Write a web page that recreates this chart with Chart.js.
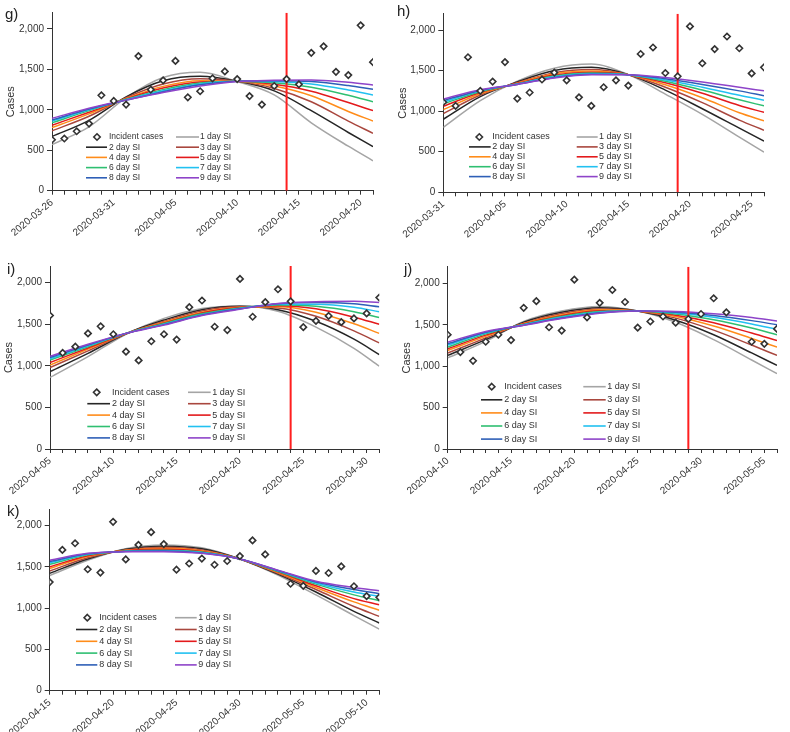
<!DOCTYPE html>
<html>
<head>
<meta charset="utf-8">
<script src="https://cdn.jsdelivr.net/npm/chart.js@4.4.1/dist/chart.umd.min.js"></script>
<style>
  body { margin: 0; background: #fff; }
  .panel { position: absolute; }
</style>
</head>
<body>
<div class="panel" style="left:0;top:0"><canvas id="chartG" width="395" height="250"></canvas></div>
<div class="panel" style="left:395px;top:0"><canvas id="chartH" width="395" height="250"></canvas></div>
<div class="panel" style="left:0;top:250px"><canvas id="chartI" width="395" height="250"></canvas></div>
<div class="panel" style="left:395px;top:250px"><canvas id="chartJ" width="395" height="250"></canvas></div>
<div class="panel" style="left:0;top:500px"><canvas id="chartK" width="395" height="232"></canvas></div>
<script>
// daily dates shared by all panels
const dayLabels = [
  "2020-03-26", "2020-03-27", "2020-03-28", "2020-03-29", "2020-03-30", "2020-03-31",
  "2020-04-01", "2020-04-02", "2020-04-03", "2020-04-04", "2020-04-05", "2020-04-06",
  "2020-04-07", "2020-04-08", "2020-04-09", "2020-04-10", "2020-04-11", "2020-04-12",
  "2020-04-13", "2020-04-14", "2020-04-15", "2020-04-16", "2020-04-17", "2020-04-18",
  "2020-04-19", "2020-04-20", "2020-04-21", "2020-04-22", "2020-04-23", "2020-04-24",
  "2020-04-25", "2020-04-26", "2020-04-27", "2020-04-28", "2020-04-29", "2020-04-30",
  "2020-05-01", "2020-05-02", "2020-05-03", "2020-05-04", "2020-05-05", "2020-05-06",
  "2020-05-07", "2020-05-08", "2020-05-09", "2020-05-10", "2020-05-11"
];
const incidentCases = [
  630, 645, 735, 830, 1180, 1110,
  1065, 1665, 1250, 1365, 1605, 1155,
  1230, 1390, 1475, 1380, 1170, 1065,
  1295, 1380, 1315, 1705, 1785, 1470,
  1430, 2045, 1590, 1765, 1920, 1775,
  1465, 1540, 1600, 1525, 1570, 1630,
  1820, 1650, null, 1295, 1270, 1450,
  1425, 1505, 1265, 1145, 1130
];
const siLabels = ["1 day SI", "2 day SI", "3 day SI", "4 day SI", "5 day SI",
  "6 day SI", "7 day SI", "8 day SI", "9 day SI"];
const siColors = ["#a5a5a5", "#262626", "#a9473e", "#ff8c1a", "#e31a1c",
  "#2fbf71", "#22c1f1", "#2e5fb7", "#8e44c9"];
const panelLetters = ["g)", "h)", "i)", "j)", "k)"];
const panelStart = [0, 5, 10, 15, 20];   // index into dayLabels
const cutoffDay = [19, 19, 19, 19, null]; // red line, days from panel start
const yTickValues = [0, 500, 1000, 1500, 2000];

const sampleDays = [0, 3, 6, 9, 12, 15, 18, 21, 24, 26];
const curvesG = [
  [570, 790, 1150, 1400, 1465, 1350, 1185, 840, 550, 370],
  [670, 870, 1160, 1360, 1415, 1355, 1235, 990, 720, 545],
  [740, 920, 1150, 1320, 1385, 1355, 1265, 1100, 860, 710],
  [780, 950, 1140, 1290, 1360, 1355, 1295, 1175, 980, 862],
  [810, 970, 1135, 1270, 1345, 1355, 1315, 1230, 1090, 990],
  [840, 990, 1130, 1250, 1332, 1355, 1335, 1280, 1180, 1100],
  [860, 1000, 1125, 1235, 1320, 1355, 1350, 1320, 1245, 1184],
  [875, 1010, 1120, 1225, 1310, 1355, 1360, 1350, 1300, 1254],
  [895, 1020, 1120, 1215, 1295, 1350, 1365, 1370, 1340, 1307]
];
const curvesH = [
  [800, 1130, 1370, 1530, 1580, 1450, 1210, 960, 680, 495],
  [900, 1180, 1360, 1500, 1540, 1450, 1260, 1030, 790, 630],
  [970, 1200, 1350, 1475, 1515, 1450, 1295, 1105, 890, 765],
  [1020, 1215, 1345, 1460, 1495, 1450, 1325, 1165, 980, 880],
  [1060, 1230, 1340, 1445, 1480, 1450, 1350, 1220, 1070, 985],
  [1090, 1240, 1335, 1435, 1470, 1450, 1370, 1260, 1140, 1065],
  [1110, 1250, 1335, 1425, 1462, 1450, 1385, 1295, 1195, 1135],
  [1130, 1255, 1330, 1415, 1456, 1450, 1400, 1330, 1250, 1190],
  [1150, 1265, 1330, 1410, 1450, 1450, 1415, 1360, 1295, 1250]
];
const curvesI = [
  [860, 1110, 1380, 1570, 1690, 1720, 1655, 1465, 1210, 995],
  [930, 1150, 1385, 1550, 1675, 1715, 1675, 1535, 1320, 1135],
  [980, 1180, 1385, 1535, 1660, 1710, 1695, 1595, 1420, 1275],
  [1010, 1200, 1388, 1525, 1645, 1705, 1710, 1645, 1505, 1390],
  [1040, 1215, 1388, 1515, 1635, 1700, 1722, 1685, 1585, 1500],
  [1070, 1230, 1390, 1510, 1625, 1695, 1730, 1715, 1650, 1580],
  [1085, 1240, 1390, 1500, 1615, 1690, 1740, 1740, 1705, 1650],
  [1100, 1250, 1390, 1495, 1610, 1685, 1745, 1760, 1745, 1710],
  [1115, 1260, 1390, 1490, 1605, 1680, 1750, 1770, 1775, 1760]
];
const curvesJ = [
  [1100, 1300, 1540, 1665, 1720, 1665, 1530, 1320, 1075, 910],
  [1130, 1320, 1530, 1650, 1705, 1665, 1555, 1380, 1160, 1010],
  [1160, 1340, 1520, 1635, 1690, 1665, 1580, 1435, 1255, 1130],
  [1190, 1360, 1515, 1620, 1680, 1665, 1600, 1485, 1335, 1230],
  [1210, 1375, 1510, 1610, 1670, 1665, 1615, 1525, 1400, 1310],
  [1230, 1390, 1505, 1600, 1660, 1665, 1630, 1560, 1460, 1380],
  [1255, 1400, 1500, 1590, 1652, 1665, 1642, 1590, 1510, 1445],
  [1270, 1410, 1495, 1582, 1645, 1665, 1652, 1612, 1550, 1500],
  [1290, 1420, 1495, 1575, 1640, 1665, 1660, 1632, 1588, 1545]
];
const curvesK = [
  [1395, 1580, 1720, 1765, 1730, 1595, 1400, 1160, 910, 745],
  [1420, 1595, 1712, 1750, 1718, 1595, 1412, 1195, 960, 820],
  [1450, 1610, 1705, 1738, 1705, 1595, 1422, 1225, 1020, 900],
  [1480, 1625, 1700, 1725, 1695, 1595, 1432, 1250, 1075, 975],
  [1500, 1635, 1695, 1712, 1685, 1595, 1440, 1270, 1115, 1040],
  [1530, 1645, 1690, 1702, 1678, 1595, 1446, 1290, 1160, 1090],
  [1550, 1652, 1688, 1695, 1672, 1595, 1452, 1305, 1195, 1140],
  [1565, 1658, 1685, 1690, 1667, 1595, 1456, 1315, 1225, 1175],
  [1580, 1663, 1683, 1683, 1663, 1595, 1460, 1325, 1250, 1210]
];

Chart.defaults.font.family = "'Liberation Sans', Arial, sans-serif";
Chart.defaults.color = "#333";

// chart area and legend placement per panel (canvas px)
const panels = [
  { id: "chartG", curves: curvesG, area: { l: 52, r: 373, t: 12.8, b: 190.7 }, h: 250, yTitle: true, titlePad: 4,
    letter: { x: 5, y: 19 },
    legend: { y: 137, dy: 10.2, mx: 97, tl: 109, l1: 86, l2: 107, r1: 176, r2: 199, tr: 200, size: 8.5 } },
  { id: "chartH", curves: curvesH, area: { l: 48.3, r: 369, t: 13.8, b: 192.3 }, h: 250, yTitle: true, titlePad: 1,
    letter: { x: 2, y: 16 },
    legend: { y: 137, dy: 9.9, mx: 84.3, tl: 97.3, l1: 74, l2: 95.7, r1: 181.7, r2: 202.7, tr: 204, size: 9 } },
  { id: "chartI", curves: curvesI, area: { l: 50, r: 379.3, t: 16, b: 199 }, h: 250, yTitle: true, titlePad: 2,
    letter: { x: 7, y: 24 },
    legend: { y: 142.3, dy: 11.4, mx: 96.7, tl: 112, l1: 87.3, l2: 110, r1: 188, r2: 210.7, tr: 212.3, size: 9 } },
  { id: "chartJ", curves: curvesJ, area: { l: 52.7, r: 382, t: 16.8, b: 199 }, h: 250, yTitle: true, titlePad: 5,
    letter: { x: 9, y: 24 },
    legend: { y: 136.7, dy: 13.1, mx: 96.7, tl: 109.3, l1: 86, l2: 107.3, r1: 188.3, r2: 210.7, tr: 212.3, size: 9 } },
  { id: "chartK", curves: curvesK, area: { l: 49.7, r: 379.3, t: 7.7, b: 190.7 }, h: 232, yTitle: false, titlePad: 0,
    letter: { x: 7, y: 16 },
    legend: { y: 117.7, dy: 11.8, mx: 87.3, tl: 99.3, l1: 76, l2: 97.3, r1: 175, r2: 196.7, tr: 198.3, size: 9 } }
];

function drawDiamond(ctx, x, y, r) {
  ctx.beginPath();
  ctx.moveTo(x, y - r);
  ctx.lineTo(x + r, y);
  ctx.lineTo(x, y + r);
  ctx.lineTo(x - r, y);
  ctx.closePath();
  ctx.fillStyle = "#fff";
  ctx.fill();
  ctx.lineWidth = 1.6;
  ctx.strokeStyle = "#333";
  ctx.stroke();
}

const panelDecor = {
  id: "panelDecor",
  afterDraw(chart, args, opts) {
    const ctx = chart.ctx;
    const lg = opts.legend;
    ctx.save();
    ctx.fillStyle = "#222";
    ctx.font = "15px 'Liberation Sans', Arial, sans-serif";
    ctx.textBaseline = "alphabetic";
    ctx.fillText(opts.letter.text, opts.letter.x, opts.letter.y);

    ctx.font = lg.size + "px 'Liberation Sans', Arial, sans-serif";
    ctx.textBaseline = "middle";
    // first row: incident cases marker + 1 day SI
    drawDiamond(ctx, lg.mx, lg.y, 3.2);
    ctx.fillStyle = "#333";
    ctx.fillText("Incident cases", lg.tl, lg.y);
    const row = function (y, k, x1, x2, tx) {
      ctx.beginPath();
      ctx.moveTo(x1, y);
      ctx.lineTo(x2, y);
      ctx.strokeStyle = siColors[k];
      ctx.lineWidth = 1.6;
      ctx.stroke();
      ctx.fillStyle = "#333";
      ctx.fillText(siLabels[k], tx, y);
    };
    row(lg.y, 0, lg.r1, lg.r2, lg.tr);
    for (let r = 1; r <= 4; r += 1) {
      const y = lg.y + r * lg.dy;
      row(y, 2 * r - 1, lg.l1, lg.l2, lg.tl);
      row(y, 2 * r, lg.r1, lg.r2, lg.tr);
    }
    ctx.restore();
  }
};

function buildPanel(p, idx) {
  const start = panelStart[idx];
  const datasets = [];
  const points = [];
  for (let d = 0; d <= 26; d += 1) {
    const v = incidentCases[start + d];
    if (v !== null) points.push({ x: d, y: v });
  }
  datasets.push({
    label: "Incident cases",
    data: points,
    showLine: false,
    pointStyle: "rectRot",
    pointRadius: 3.2,
    pointBorderWidth: 1.6,
    pointBorderColor: "#333",
    pointBackgroundColor: "#fff",
    order: 0
  });
  if (cutoffDay[idx] !== null) {
    datasets.push({
      label: "cutoff",
      data: [{ x: cutoffDay[idx], y: 0 }, { x: cutoffDay[idx], y: 2200 }],
      borderColor: "#ff1f1f",
      borderWidth: 2,
      pointRadius: 0,
      order: 1
    });
  }
  p.curves.forEach((vals, k) => {
    datasets.push({
      label: siLabels[k],
      data: sampleDays.map((d, i) => ({ x: d, y: vals[i] })),
      borderColor: siColors[k],
      borderWidth: 1.5,
      pointRadius: 0,
      cubicInterpolationMode: "monotone",
      order: 11 - k
    });
  });

  const a = p.area;
  new Chart(document.getElementById(p.id), {
    type: "line",
    data: { datasets: datasets },
    plugins: [panelDecor],
    options: {
      responsive: false,
      animation: false,
      layout: { padding: { left: 0, top: a.t, right: 395 - a.r, bottom: 0 } },
      plugins: {
        legend: { display: false },
        tooltip: { enabled: false },
        panelDecor: {
          letter: { text: panelLetters[idx], x: p.letter.x, y: p.letter.y },
          legend: p.legend
        }
      },
      scales: {
        x: {
          type: "linear",
          min: 0,
          max: 26,
          afterFit: (scale) => { scale.height = p.h - a.b; },
          grid: { drawOnChartArea: false, tickLength: 4, color: "#333" },
          border: { color: "#333", width: 1 },
          ticks: {
            stepSize: 1,
            maxTicksLimit: 30,
            autoSkip: false,
            minRotation: 40,
            maxRotation: 40,
            padding: 2,
            font: { size: 10 },
            color: "#333",
            callback: (v) => (v % 5 === 0 ? dayLabels[start + v] : "")
          }
        },
        y: {
          min: 0,
          max: 2200,
          afterFit: (scale) => { scale.width = a.l; },
          afterBuildTicks: (scale) => { scale.ticks = yTickValues.map((v) => ({ value: v })); },
          grid: { drawOnChartArea: false, tickLength: 5, color: "#333" },
          border: { color: "#333", width: 1 },
          title: { display: p.yTitle, text: "Cases", font: { size: 11 }, color: "#333", padding: { top: p.titlePad, bottom: 0 } },
          ticks: {
            padding: 3,
            font: { size: 10 },
            color: "#333",
            callback: (v) => v.toLocaleString("en-US")
          }
        }
      }
    }
  });
}

panels.forEach(buildPanel);
</script>
</body>
</html>
